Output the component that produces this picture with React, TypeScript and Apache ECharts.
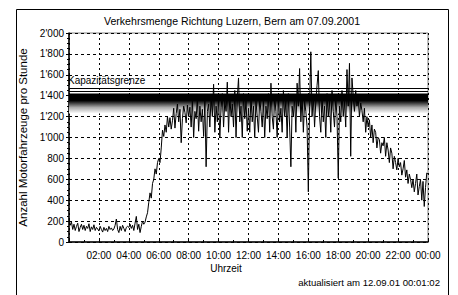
import React, { useEffect, useRef } from 'react';
import * as echarts from 'echarts';

const titleText = 'Verkehrsmenge Richtung Luzern, Bern am 07.09.2001';
const yAxisName = 'Anzahl Motorfahrzeuge pro Stunde';
const xAxisName = 'Uhrzeit';
const updatedText = 'aktualisiert am 12.09.01 00:01:02';
const capacityLabel = 'Kapazitätsgrenze';
const capacityLines = [1474, 1445];
const capacityBand = [1422, 1230];
const stepMinutes = 5;

// vehicles per hour, every 5 minutes from 00:00 to 24:00
const traffic = [
  225, 160, 190, 120, 170, 110, 150, 180, 100, 140, 170, 120,
  160, 110, 150, 130, 175, 100, 145, 120, 165, 110, 140, 125,
  105, 150, 120, 95, 140, 110, 130, 100, 150, 120, 135, 110,
  125, 160, 220, 120, 90, 150, 110, 160, 130, 100, 140, 150,
  140, 170, 130, 160, 110, 180, 245, 120, 170, 90, 150, 200,
  170, 190, 240, 280, 380, 470, 420, 560, 600, 700, 650, 760,
  800, 760, 900, 1070, 1010, 1120, 1050, 1200, 1100, 1190, 1080, 1160,
  1280, 1090, 1230, 1320, 1150, 1270, 950, 1180, 1300, 1240, 1140, 1310,
  1200, 1290, 1100, 1360, 1000, 1250, 1180, 1380, 1060, 1300, 1150, 1270,
  1010, 1350, 720, 1250, 1320, 1100, 1400, 1200, 1510, 1050, 1300, 1150,
  1380, 1000, 1290, 1420, 1100, 1350, 1250, 1530, 1050, 1400, 1200, 1320,
  1100, 1450, 1000, 1380, 1570, 1150, 1300, 1000, 1420, 1180, 1350, 1060,
  1280, 1050, 1400, 1150, 1300, 1000, 1350, 1200, 1050, 1380, 1250, 1100,
  1350, 1000, 1300, 1180, 1420, 1050, 1520, 1200, 1080, 1400, 1250, 1000,
  1390, 1150, 1280, 1050, 1450, 1200, 1350, 1000, 1420, 1100, 720, 1300,
  1200, 1400, 1050, 1520, 1300, 1660, 1150, 1400, 1050, 1350, 1250, 1100,
  480, 1300, 1820, 1200, 1400, 1100, 1350, 1500, 1640, 1200, 1050, 1400,
  1150, 1300, 1000, 1420, 1200, 1350, 1050, 1450, 1250, 1100, 1380, 1200,
  610, 1300, 1150, 1450, 1200, 1350, 1100, 1650, 1300, 1710, 820, 1570,
  1400, 1250, 1450, 1300, 1380, 1200, 1330, 1260, 1150, 1280, 1050, 1200,
  1100, 1170, 1000, 1120, 950, 1080, 1050, 900, 1000, 980, 850, 950,
  920, 1000, 820, 950, 880, 760, 900, 850, 700, 820, 760, 690,
  800, 720, 760, 640, 700, 780, 620, 690, 560, 650, 600, 520,
  600, 480, 560, 650, 450, 530, 600, 400, 580, 340, 520, 660,
  650,
];

const FONT = 'Liberation Sans, Arial, sans-serif';

function fmtThousands(v: number): string {
  if (v >= 1000) {
    return `${Math.floor(v / 1000)}'${String(v % 1000).padStart(3, '0')}`;
  }
  return String(v);
}

function fmtHour(v: number): string {
  if (v === 0) return '';
  const h = Math.round(v) % 24;
  return `${String(h).padStart(2, '0')}:00`;
}

export default function App() {
  const ref = useRef<HTMLDivElement>(null);

  useEffect(() => {
    if (!ref.current) return;
    const chart = echarts.init(ref.current, undefined, { renderer: 'svg' });
    const points = traffic.map((v, i) => [(i * stepMinutes) / 60, v]);

    chart.setOption({
      animation: false,
      backgroundColor: '#fff',
      textStyle: { fontFamily: FONT },
      grid: {
        left: 69,
        top: 33,
        right: 30,
        bottom: 53,
        show: true,
        borderColor: '#808080',
        borderWidth: 1,
        backgroundColor: 'transparent',
      },
      graphic: [
        {
          type: 'rect',
          shape: { x: 16.5, y: 9.5, width: 432, height: 300 },
          style: { fill: 'none', stroke: '#000', lineWidth: 1 },
          z: -1,
        },
        {
          type: 'text',
          x: 232,
          y: 21,
          style: {
            text: titleText,
            font: `10.6px ${FONT}`,
            fill: '#000',
            textAlign: 'center',
            textVerticalAlign: 'middle',
          },
        },
        {
          type: 'text',
          x: 226,
          y: 268,
          style: {
            text: xAxisName,
            font: `10px ${FONT}`,
            fill: '#000',
            textAlign: 'center',
            textVerticalAlign: 'middle',
          },
        },
        {
          type: 'text',
          x: 440,
          y: 282,
          style: {
            text: updatedText,
            font: `9.6px ${FONT}`,
            fill: '#000',
            textAlign: 'right',
            textVerticalAlign: 'middle',
          },
        },
      ],
      xAxis: {
        type: 'value',
        min: 0,
        max: 24,
        interval: 2,
        axisLine: { show: true, lineStyle: { color: '#000', width: 1.5 } },
        axisTick: { show: true, inside: true, length: 3, lineStyle: { color: '#000' } },
        minorTick: { show: true, splitNumber: 2, length: 2, lineStyle: { color: '#000' } },
        axisLabel: {
          formatter: fmtHour,
          color: '#000',
          fontSize: 10,
          fontFamily: FONT,
          margin: 8,
          showMinLabel: true,
          showMaxLabel: true,
        },
        splitLine: { show: true, lineStyle: { color: '#000', type: [2, 3], width: 1 } },
      },
      yAxis: {
        type: 'value',
        min: 0,
        max: 2000,
        interval: 200,
        name: yAxisName,
        nameLocation: 'middle',
        nameGap: 29,
        nameTextStyle: { color: '#000', fontSize: 11.5, fontFamily: FONT },
        axisLine: { show: true, lineStyle: { color: '#000', width: 1.5 } },
        axisTick: { show: true, length: 3, lineStyle: { color: '#000' } },
        minorTick: { show: true, splitNumber: 4, length: 2, lineStyle: { color: '#000' } },
        axisLabel: {
          formatter: fmtThousands,
          color: '#000',
          fontSize: 10,
          fontFamily: FONT,
          margin: 5,
        },
        splitLine: { show: true, lineStyle: { color: '#000', type: [3, 3], width: 1 } },
      },
      series: [
        {
          type: 'line',
          data: [],
          z: 1,
          silent: true,
          markArea: {
            silent: true,
            itemStyle: {
              color: new echarts.graphic.LinearGradient(0, 0, 0, 1, [
                { offset: 0, color: '#000' },
                { offset: 0.36, color: '#000' },
                { offset: 0.5, color: '#444' },
                { offset: 0.7, color: '#aaa' },
                { offset: 1, color: '#fff' },
              ]),
              opacity: 1,
            },
            data: [[{ yAxis: capacityBand[0] }, { yAxis: capacityBand[1] }]],
          },
          markLine: {
            silent: true,
            symbol: 'none',
            lineStyle: { color: '#000', width: 1, type: 'solid' },
            data: [
              {
                yAxis: capacityLines[0],
                label: {
                  show: true,
                  position: 'insideStartTop',
                  formatter: capacityLabel,
                  color: '#000',
                  fontSize: 10,
                  fontFamily: FONT,
                  distance: [-1, 2],
                },
              },
              { yAxis: capacityLines[1], label: { show: false } },
            ],
          },
        },
        {
          type: 'line',
          data: points,
          z: 3,
          showSymbol: false,
          symbol: 'none',
          lineStyle: { color: '#000', width: 1 },
        },
      ],
    });

    return () => chart.dispose();
  }, []);

  return (
    <div
      ref={ref}
      style={{ position: 'fixed', left: 0, top: 0, width: 458, height: 295, background: '#fff' }}
    />
  );
}
